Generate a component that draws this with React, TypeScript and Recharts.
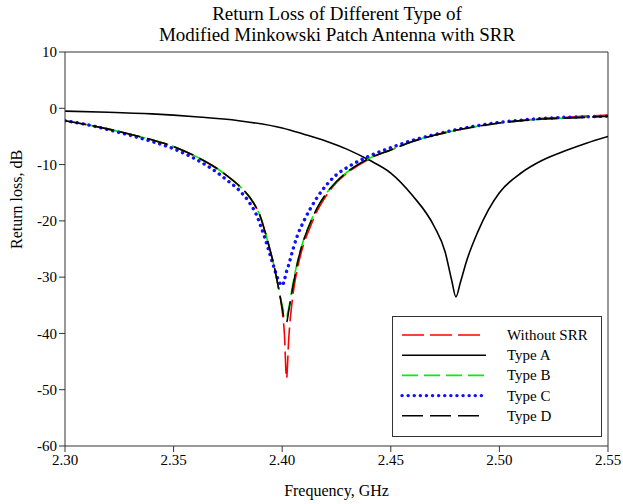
import * as React from "react";
import {
  LineChart,
  Line,
  XAxis,
  YAxis,
  Legend,
  ReferenceLine,
} from "recharts";

// Frequency grid (GHz) shared by the four SRR-family curves
const srrFreq = [
  2.3, 2.31, 2.32, 2.33, 2.34, 2.35, 2.36, 2.37, 2.375, 2.38, 2.385, 2.388, 2.39, 2.392, 2.394,
  2.396, 2.398, 2.4, 2.401, 2.402, 2.403, 2.405, 2.407, 2.41, 2.413, 2.416, 2.42, 2.425, 2.43,
  2.44, 2.45, 2.46, 2.47, 2.48, 2.49, 2.5, 2.51, 2.52, 2.53, 2.54, 2.55,
];

// Return loss (dB)
const withoutSrr = [
  -2.2, -2.9, -3.7, -4.6, -5.6, -6.8, -8.5, -10.7, -12.1, -13.7, -15.8, -17.6, -19.3, -21.8,
  -24.6, -27.6, -31.3, -36, -40, -48, -41, -33, -28.5, -24, -21, -18.3, -15.7, -13.2, -11.5,
  -9.0, -7.4, -5.9, -4.8, -3.9, -3.2, -2.6, -2.2, -1.8, -1.6, -1.4, -1.2,
];
const typeB = [
  -2.2, -2.9, -3.7, -4.6, -5.6, -6.8, -8.5, -10.7, -12.1, -13.7, -15.8, -17.6, -19.3, -21.8,
  -24.6, -27.6, -31.3, -35, -36.5, -37, -35.5, -31, -27.3, -23.2, -20.2, -17.8, -15.3, -13,
  -11.3, -8.9, -7.4, -5.9, -4.8, -3.9, -3.2, -2.6, -2.2, -1.9, -1.75, -1.6, -1.4,
];
const typeC = [
  -2.2, -2.9, -3.8, -4.8, -5.9, -7.2, -9.0, -11.4, -12.9, -14.5, -16.8, -18.8, -20.8, -23,
  -25.5, -28, -30.3, -31.5, -30.5, -29, -27.8, -25, -22.6, -20, -17.8, -15.9, -13.8, -11.8,
  -10.5, -8.5, -7.0, -5.7, -4.7, -3.8, -3.1, -2.5, -2.1, -1.8, -1.6, -1.5, -1.4,
];
const typeD = [
  -2.2, -2.9, -3.7, -4.6, -5.6, -6.8, -8.5, -10.7, -12.1, -13.7, -15.8, -17.6, -19.3, -21.8,
  -24.6, -27.6, -31.3, -35.5, -37.5, -38, -36, -31.5, -27.5, -23.3, -20.3, -17.8, -15.3, -13,
  -11.3, -8.9, -7.4, -5.9, -4.8, -3.9, -3.2, -2.6, -2.2, -1.9, -1.75, -1.6, -1.4,
];

// Type A resonates higher up
const typeAFreq = [
  2.3, 2.32, 2.34, 2.36, 2.38, 2.4, 2.41, 2.42, 2.43, 2.44, 2.45, 2.46, 2.47, 2.475, 2.478,
  2.48, 2.482, 2.485, 2.49, 2.495, 2.5, 2.51, 2.52, 2.53, 2.54, 2.55,
];
const typeA = [
  -0.5, -0.7, -1.0, -1.5, -2.2, -3.5, -4.6, -5.8, -7.3, -9.2, -11.5, -15.5, -21, -25.5, -30.5,
  -33.5, -31, -27, -22, -18, -15, -11.5, -9.2, -7.6, -6.2, -5,
];

const xTicks = [2.3, 2.35, 2.4, 2.45, 2.5, 2.55];
const yTicks = [10, 0, -10, -20, -30, -40, -50, -60];

const zip = (fs: number[], vs: number[]) => fs.map((f, i) => ({ f, db: vs[i] }));

const series = [
  { name: "Without SRR", data: zip(srrFreq, withoutSrr), color: "#ff0000", dash: "22 6", width: 1.6, cap: "butt" },
  { name: "Type A", data: zip(typeAFreq, typeA), color: "#000000", dash: undefined, width: 1.6, cap: "butt" },
  { name: "Type B", data: zip(srrFreq, typeB), color: "#00ee00", dash: "16 6", width: 1.6, cap: "butt" },
  { name: "Type C", data: zip(srrFreq, typeC), color: "#1010ff", dash: "0.1 6", width: 3.4, cap: "round" },
  { name: "Type D", data: zip(srrFreq, typeD), color: "#000000", dash: "21 7", width: 1.6, cap: "butt" },
];

const font = "'Liberation Serif', 'Times New Roman', serif";

const LegendBox = () => (
  <svg width={210} height={121} style={{ display: "block" }}>
    <rect x={0.5} y={0.5} width={209} height={120} fill="#fff" stroke="#333" strokeWidth={1} />
    {series.map((s, i) => {
      const y = 19 + i * 20.2;
      return (
        <g key={s.name}>
          <line
            x1={10}
            x2={94}
            y1={y}
            y2={y}
            stroke={s.color}
            strokeWidth={s.width}
            strokeDasharray={s.dash}
            strokeLinecap={s.cap as any}
          />
          <text x={115} y={y + 5} fontSize={15} fontFamily={font} fill="#000">
            {s.name}
          </text>
        </g>
      );
    })}
  </svg>
);

export default function App() {
  return (
    <div style={{ position: "absolute", left: 0, top: 0, width: 623, height: 504, background: "#fff" }}>
      <div
        style={{
          position: "absolute",
          left: 37,
          width: 600,
          top: 3,
          textAlign: "center",
          fontFamily: font,
          fontSize: 19,
          lineHeight: "21px",
          color: "#000",
        }}
      >
        Return Loss of Different Type of
        <br />
        Modified Minkowski Patch Antenna with SRR
      </div>
      <LineChart width={623} height={504} margin={{ top: 52, right: 15, bottom: 0, left: 0 }}>
        <XAxis
          type="number"
          dataKey="f"
          domain={[2.3, 2.55]}
          ticks={xTicks}
          tickFormatter={(v: number) => v.toFixed(2)}
          allowDataOverflow
          height={58}
          tickSize={6}
          stroke="#333"
          tick={{ fill: "#000", fontSize: 15, fontFamily: font }}
          label={{ value: "Frequency, GHz", position: "insideBottom", offset: 8, fill: "#000", fontSize: 16, fontFamily: font }}
        />
        <YAxis
          type="number"
          domain={[-60, 10]}
          ticks={yTicks}
          allowDataOverflow
          width={65}
          tickSize={6}
          stroke="#333"
          tick={{ fill: "#000", fontSize: 15, fontFamily: font }}
          label={{ value: "Return loss, dB", angle: -90, position: "insideLeft", offset: 16, fill: "#000", fontSize: 16, fontFamily: font }}
        />
        <ReferenceLine y={10} stroke="#333" strokeWidth={1} />
        <ReferenceLine x={2.55} stroke="#333" strokeWidth={1} />
        {series.map((s) => (
          <Line
            key={s.name}
            name={s.name}
            data={s.data}
            dataKey="db"
            type="monotone"
            stroke={s.color}
            strokeWidth={s.width}
            strokeDasharray={s.dash}
            strokeLinecap={s.cap as any}
            dot={false}
            activeDot={false}
            isAnimationActive={false}
          />
        ))}
        <Legend
          layout="vertical"
          align="center"
          verticalAlign="middle"
          content={() => <LegendBox />}
          wrapperStyle={{ left: 392, top: 316, width: 210, height: 121 }}
        />
      </LineChart>
    </div>
  );
}
